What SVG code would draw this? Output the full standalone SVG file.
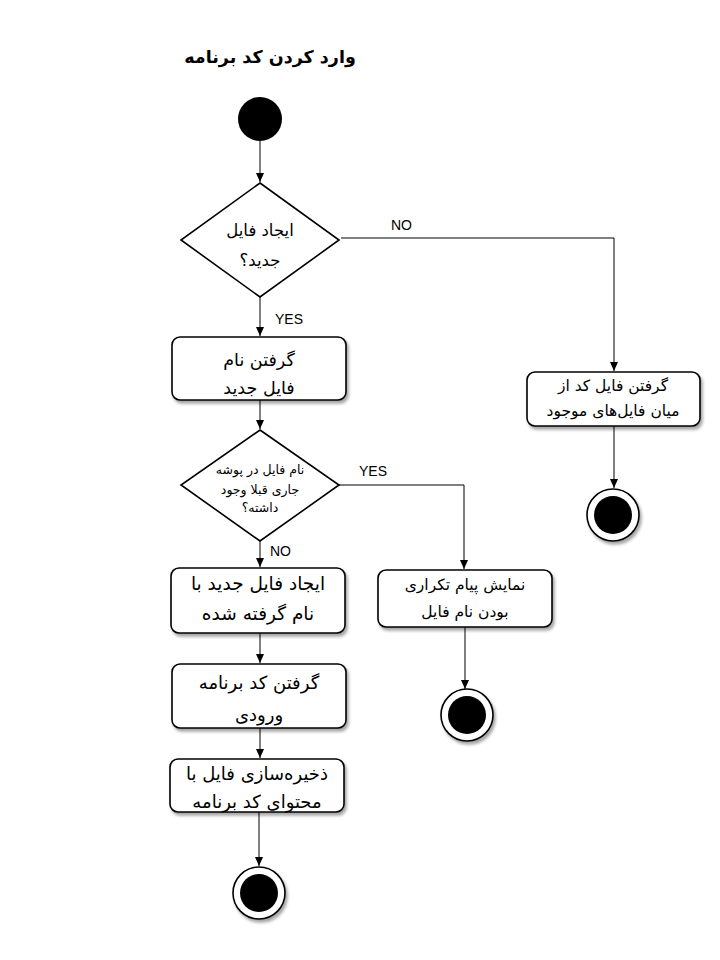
<svg xmlns="http://www.w3.org/2000/svg" width="720" height="960" viewBox="0 0 720 960">
<defs>
<style>
.t{font-family:"DejaVu Sans","Noto Sans",sans-serif;fill:#000;text-anchor:middle}
.box{fill:#fff;stroke:#000;stroke-width:1.6}
.dia{fill:#fff;stroke:#000;stroke-width:1.6}
.ln{fill:none;stroke:#000;stroke-width:1}
.lbl{font-family:"Liberation Sans","DejaVu Sans",sans-serif;font-size:14px;fill:#000}
</style>
<filter id="sh" x="-10%" y="-10%" width="130%" height="140%">
<feDropShadow dx="2" dy="3" stdDeviation="1.5" flood-color="#000" flood-opacity="0.35"/>
</filter>
<marker id="ar" markerWidth="10" markerHeight="10" refX="9" refY="5" orient="auto" markerUnits="userSpaceOnUse">
<path d="M0,1 L9,5 L0,9 Z" fill="#000"/>
</marker>
</defs>
<rect width="720" height="960" fill="#fff"/>
<text class="t" x="270" y="63" font-size="17.5" font-weight="bold" direction="rtl">وارد کردن کد برنامه</text>

<g id="connectors">
<line class="ln" x1="260" y1="141" x2="260" y2="182" marker-end="url(#ar)"/>
<polyline class="ln" points="341,238 614,238 614,371" marker-end="url(#ar)"/>
<line class="ln" x1="260" y1="297" x2="260" y2="336" marker-end="url(#ar)"/>
<line class="ln" x1="260" y1="400" x2="260" y2="429" marker-end="url(#ar)"/>
<polyline class="ln" points="339,485 464,485 464,569" marker-end="url(#ar)"/>
<line class="ln" x1="260" y1="541" x2="260" y2="567" marker-end="url(#ar)"/>
<line class="ln" x1="260" y1="633" x2="260" y2="663" marker-end="url(#ar)"/>
<line class="ln" x1="260" y1="728" x2="260" y2="758" marker-end="url(#ar)"/>
<line class="ln" x1="259" y1="812" x2="259" y2="866" marker-end="url(#ar)"/>
<line class="ln" x1="614" y1="426" x2="614" y2="488" marker-end="url(#ar)"/>
<line class="ln" x1="465" y1="627" x2="465" y2="689" marker-end="url(#ar)"/>
<text class="lbl" x="391" y="230">NO</text>
<text class="lbl" x="275" y="324">YES</text>
<text class="lbl" x="359" y="476">YES</text>
<text class="lbl" x="270" y="556">NO</text>
</g>

<g id="start"><circle cx="260" cy="119" r="22" fill="#000"/></g>

<g id="d1">
<polygon class="dia" points="260,183 339,240 260,297 181,240"/>
<text class="t" x="260" y="236" font-size="16.5" direction="rtl">ایجاد فایل</text>
<text class="t" x="260" y="266" font-size="16.5" direction="rtl">جدید؟</text>
</g>

<g id="a1">
<rect class="box" x="172" y="337" width="174" height="63" rx="8" filter="url(#sh)"/>
<text class="t" x="259" y="366" font-size="17.5" direction="rtl">گرفتن نام</text>
<text class="t" x="259" y="394" font-size="17.5" direction="rtl">فایل جدید</text>
</g>

<g id="d2">
<polygon class="dia" points="260,430 339,485 260,541 181,485"/>
<text class="t" x="260" y="474" font-size="12.5" direction="rtl">نام فایل در پوشه</text>
<text class="t" x="260" y="494" font-size="12.5" direction="rtl">جاری قبلا وجود</text>
<text class="t" x="260" y="512" font-size="12.5" direction="rtl">داشته؟</text>
</g>

<g id="a2">
<rect class="box" x="171" y="568" width="174" height="65" rx="8" filter="url(#sh)"/>
<text class="t" x="258" y="590" font-size="18.5" direction="rtl">ایجاد فایل جدید با</text>
<text class="t" x="258" y="620" font-size="18.5" direction="rtl">نام گرفته شده</text>
</g>

<g id="a3">
<rect class="box" x="172" y="664" width="174" height="64" rx="8" filter="url(#sh)"/>
<text class="t" x="259" y="689" font-size="18" direction="rtl">گرفتن کد برنامه</text>
<text class="t" x="259" y="721" font-size="18" direction="rtl">ورودی</text>
</g>

<g id="a4">
<rect class="box" x="170" y="759" width="174" height="53" rx="8" filter="url(#sh)"/>
<text class="t" x="257" y="780" font-size="18" direction="rtl">ذخیره‌سازی فایل با</text>
<text class="t" x="257" y="808" font-size="18" direction="rtl">محتوای کد برنامه</text>
</g>

<g id="end1">
<circle cx="259" cy="893" r="26" fill="#fff" stroke="#000" stroke-width="1.6" filter="url(#sh)"/>
<circle cx="259" cy="893" r="19" fill="#000"/>
</g>

<g id="a5">
<rect class="box" x="527" y="372" width="173" height="54" rx="8" filter="url(#sh)"/>
<text class="t" x="613" y="391" font-size="15.5" direction="rtl">گرفتن فایل کد از</text>
<text class="t" x="613" y="416" font-size="15.5" direction="rtl">میان فایل‌های موجود</text>
</g>

<g id="end2">
<circle cx="613" cy="515" r="26" fill="#fff" stroke="#000" stroke-width="1.6" filter="url(#sh)"/>
<circle cx="613" cy="515" r="19" fill="#000"/>
</g>

<g id="a6">
<rect class="box" x="378" y="570" width="174" height="57" rx="8" filter="url(#sh)"/>
<text class="t" x="465" y="590" font-size="15.5" direction="rtl">نمایش پیام تکراری</text>
<text class="t" x="465" y="617" font-size="15.5" direction="rtl">بودن نام فایل</text>
</g>

<g id="end3">
<circle cx="467" cy="715" r="26" fill="#fff" stroke="#000" stroke-width="1.6" filter="url(#sh)"/>
<circle cx="467" cy="715" r="19" fill="#000"/>
</g>
</svg>
